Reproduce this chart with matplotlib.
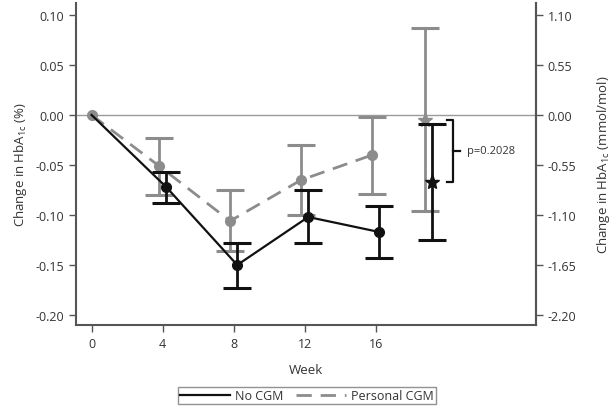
import matplotlib
matplotlib.use("Agg")
import matplotlib.pyplot as plt
import numpy as np

plt.rcParams['font.family'] = ['Open Sans', 'DejaVu Sans']
plt.rcParams['mathtext.default'] = 'regular'

weeks = [0, 4, 8, 12, 16]
end_week = 19
tick_weeks = [0, 4, 8, 12, 16]

no_cgm = [0.0, -0.072, -0.150, -0.102, -0.117]
no_cgm_lo = [0.0, -0.088, -0.173, -0.128, -0.143]
no_cgm_hi = [0.0, -0.057, -0.128, -0.075, -0.091]
no_cgm_end = -0.067
no_cgm_end_lo = -0.125
no_cgm_end_hi = -0.009

pers = [0.0, -0.051, -0.106, -0.065, -0.040]
pers_lo = [0.0, -0.080, -0.136, -0.100, -0.079]
pers_hi = [0.0, -0.023, -0.075, -0.030, -0.002]
pers_end = -0.005
pers_end_lo = -0.096
pers_end_hi = 0.087

p_text = "p=0.2028"
left_ticks = [0.10, 0.05, 0.00, -0.05, -0.10, -0.15, -0.20]
right_ticks = [1.10, 0.55, 0.00, -0.55, -1.10, -1.65, -2.20]

off = 0.2
black = '#111111'
grey = '#8c8c8c'
spine_c = '#555555'
dash = (5.5, 3.2)

fig = plt.figure(figsize=(6.16, 4.10), dpi=100)
ax = fig.add_axes([76/616, 1-325.7/410, 460/616, (325.7-4)/410])

ax.axhline(0, color='#9a9a9a', lw=1.0, zorder=1)

w = np.array(weeks, dtype=float)
# Personal CGM (grey)
xp = np.where(w == 0, 0, w - off)
pl = np.array(pers); plo = np.array(pers_lo); phi = np.array(pers_hi)
ax.errorbar(xp[1:], pl[1:], yerr=[pl[1:]-plo[1:], phi[1:]-pl[1:]], fmt='none',
            ecolor=grey, elinewidth=2.0, capsize=10, capthick=2.2, zorder=2)
ax.plot(xp, pl, color=grey, lw=2.0, dashes=dash, zorder=3)
ax.plot(xp, pl, 'o', color=grey, ms=7, zorder=4)
ax.errorbar([end_week - off], [pers_end], yerr=[[pers_end-pers_end_lo], [pers_end_hi-pers_end]],
            fmt='none', ecolor=grey, elinewidth=2.0, capsize=10, capthick=2.2, zorder=2)
ax.plot([end_week - off], [pers_end], marker='*', color=grey, ms=11, ls='none', zorder=4)

# No CGM (black)
xb = np.where(w == 0, 0, w + off)
bl = np.array(no_cgm); blo = np.array(no_cgm_lo); bhi = np.array(no_cgm_hi)
ax.errorbar(xb[1:], bl[1:], yerr=[bl[1:]-blo[1:], bhi[1:]-bl[1:]], fmt='none',
            ecolor=black, elinewidth=2.0, capsize=10, capthick=2.2, zorder=5)
ax.plot(xb, bl, color=black, lw=1.6, zorder=6)
ax.plot(xb[1:], bl[1:], 'o', color=black, ms=7, zorder=7)
ax.errorbar([end_week + off], [no_cgm_end], yerr=[[no_cgm_end-no_cgm_end_lo], [no_cgm_end_hi-no_cgm_end]],
            fmt='none', ecolor=black, elinewidth=2.0, capsize=10, capthick=2.2, zorder=5)
ax.plot([end_week + off], [no_cgm_end], marker='*', color=black, ms=11, ls='none', zorder=7)

# bracket
bx = 20.37
ax.plot([20.0, bx, bx, 20.0], [pers_end, pers_end, no_cgm_end, no_cgm_end], color=black, lw=1.6, zorder=6)
ym = (pers_end + no_cgm_end) / 2
ax.plot([bx, 20.75], [ym, ym], color=black, lw=1.6, zorder=6)
ax.text(21.15, ym, p_text, fontsize=8, color='#333333', va='center', ha='left')

ax.set_xlim(-0.88, 25.03)
ax.set_ylim(-0.2097, 0.112)
ax.set_xticks(tick_weeks)
ax.set_xticklabels([str(t) for t in tick_weeks])
ax.set_yticks(left_ticks)
ax.set_yticklabels([f"{t:.2f}" for t in left_ticks])
ax.set_xlabel('Week', fontsize=9.5, color='#333333', labelpad=10)
ax.set_ylabel('Change in HbA$_{1c}$ (%)', fontsize=9.5, color='#333333', labelpad=5)

for s in ['left', 'bottom', 'right']:
    ax.spines[s].set_color(spine_c)
    ax.spines[s].set_linewidth(1.5)
ax.spines['top'].set_visible(False)
ax.tick_params(axis='both', colors=spine_c, labelcolor='#333333', labelsize=9, width=1, length=5)

ax2 = ax.twinx()
lo, hi = ax.get_ylim()
ax2.set_ylim(lo * 11, hi * 11)
ax2.set_yticks(right_ticks)
ax2.set_yticklabels([f"{t:.2f}" for t in right_ticks])
ax2.spines['top'].set_visible(False)
ax2.spines['left'].set_visible(False)
ax2.spines['bottom'].set_visible(False)
ax2.spines['right'].set_color(spine_c)
ax2.spines['right'].set_linewidth(1.5)
ax2.tick_params(axis='y', colors=spine_c, labelcolor='#333333', labelsize=9, width=1, length=5)
ax2.set_ylabel('Change in HbA$_{1c}$ (mmol/mol)', fontsize=9.5, color='#333333', labelpad=13)

from matplotlib.lines import Line2D
handles = [Line2D([], [], color=black, lw=1.6),
           Line2D([], [], color=grey, lw=2.0, dashes=dash)]
leg = fig.legend(handles, ['No CGM', 'Personal CGM'], loc='center', bbox_to_anchor=(307/616, 1-396.5/410),
                 ncol=2, fontsize=9, frameon=True, fancybox=False, handlelength=4.0, columnspacing=1.0,
                 handletextpad=0.4, borderpad=0.15, borderaxespad=0, edgecolor='#777777')
leg.get_frame().set_linewidth(1.0)
for t in leg.get_texts():
    t.set_color('#333333')

fig.savefig('out.png', dpi=100)
